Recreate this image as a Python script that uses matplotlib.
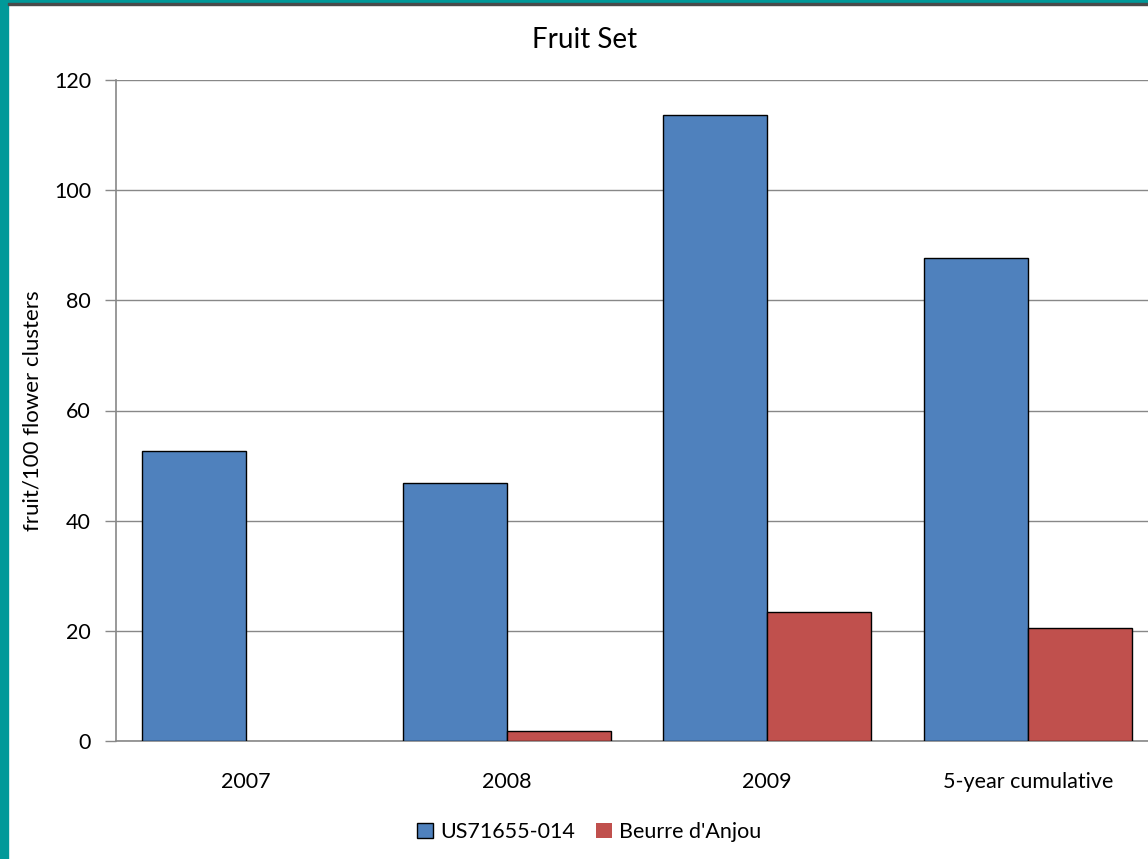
import numpy as np
import matplotlib.pyplot as plt
from matplotlib.patches import Rectangle

# data
categories = ["2007", "2008", "2009", "5-year cumulative"]
us71655 = [52.7, 46.8, 113.6, 87.7]
anjou = [0.0, 1.8, 23.4, 20.5]
series_names = ["US71655-014", "Beurre d'Anjou"]

plt.rcParams['font.family'] = ['Lato', 'DejaVu Sans']

W, H = 1148, 859
fig = plt.figure(figsize=(W / 100, H / 100), dpi=100)

# teal frame (left and top), dark line under top strip
fig.patches.append(Rectangle((0, 0), 8 / W, 1, transform=fig.transFigure,
                             color="#009999", zorder=0))
fig.patches.append(Rectangle((0, 1 - 3 / H), 1, 3 / H, transform=fig.transFigure,
                             color="#009999", zorder=0))
fig.patches.append(Rectangle((8 / W, 1 - 5 / H), 1, 2 / H, transform=fig.transFigure,
                             color="#4a4a4a", zorder=0))

left, bottom = 116 / W, (H - 741) / H
ax = fig.add_axes([left, bottom, 1042 / W, 661 / H])

x = np.arange(len(categories))
w = 0.4
ax.bar(x - w / 2, us71655, w, color="#4F81BD", edgecolor="black",
       linewidth=[1 if v > 0 else 0 for v in us71655], label=series_names[0], zorder=3)
ax.bar(x + w / 2, anjou, w, color="#C0504D", edgecolor="black",
       linewidth=[1 if v > 0 else 0 for v in anjou], label=series_names[1], zorder=3)

ax.set_xlim(-0.5, 3.5)
ax.set_ylim(0, 120)
ax.set_yticks(np.arange(0, 121, 20))
ax.set_xticks(x)
ax.set_xticklabels(categories)
ax.tick_params(axis="x", length=0, pad=22, labelsize=15.5)
ax.tick_params(axis="y", length=8, color="#888888", width=1, pad=10, labelsize=15.5)
ax.yaxis.grid(True, color="#888888", linewidth=1, zorder=0)
for s in ["top", "right"]:
    ax.spines[s].set_visible(False)
for s in ["left", "bottom"]:
    ax.spines[s].set_color("#888888")
    ax.spines[s].set_linewidth(1.2)

ax.set_ylabel("fruit/100 flower clusters", fontsize=16)
ax.yaxis.label.set_va("center")
ax.yaxis.set_label_coords((33 - 116) / 1042, 0.5)
fig.text(585 / W, 1 - 40 / H, "Fruit Set", ha="center", va="center", fontsize=20)

fig.legend(loc="center", bbox_to_anchor=(589 / W, 1 - 832 / H), ncol=2,
           frameon=False, fontsize=15.5, handlelength=0.75, handleheight=0.75,
           columnspacing=0.95, handletextpad=0.35)

fig.savefig("out.png", dpi=100)
